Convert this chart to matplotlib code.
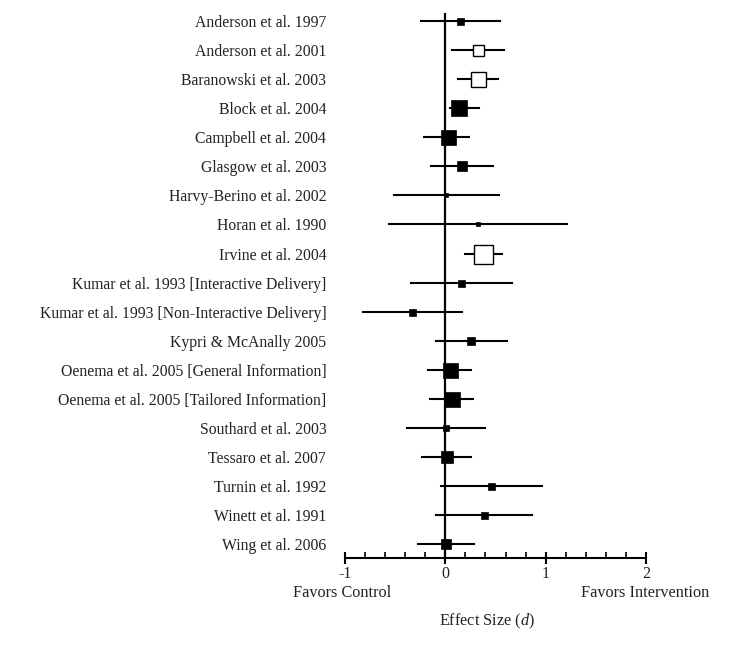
import numpy as np
import matplotlib.pyplot as plt
from matplotlib.ticker import MultipleLocator

plt.rcParams['font.family'] = ['Liberation Serif', 'DejaVu Serif']
plt.rcParams['axes.unicode_minus'] = False
plt.rcParams['mathtext.fontset'] = 'custom'
plt.rcParams['mathtext.it'] = 'Liberation Serif:italic'
plt.rcParams['mathtext.rm'] = 'Liberation Serif'

studies = ["Anderson et al. 1997", "Anderson et al. 2001", "Baranowski et al. 2003",
           "Block et al. 2004", "Campbell et al. 2004", "Glasgow et al. 2003",
           "Harvy-Berino et al. 2002", "Horan et al. 1990", "Irvine et al. 2004",
           "Kumar et al. 1993 [Interactive Delivery]",
           "Kumar et al. 1993 [Non-Interactive Delivery]", "Kypri & McAnally 2005",
           "Oenema et al. 2005 [General Information]",
           "Oenema et al. 2005 [Tailored Information]", "Southard et al. 2003",
           "Tessaro et al. 2007", "Turnin et al. 1992", "Winett et al. 1991",
           "Wing et al. 2006"]
d = [0.15, 0.33, 0.33, 0.14, 0.03, 0.17, 0.01, 0.33, 0.38, 0.16, -0.33, 0.26,
     0.05, 0.07, 0.01, 0.02, 0.46, 0.39, 0.01]
lo = [-0.24, 0.07, 0.13, 0.05, -0.21, -0.14, -0.51, -0.56, 0.20, -0.34, -0.82, -0.09,
      -0.17, -0.15, -0.38, -0.23, -0.04, -0.09, -0.27]
hi = [0.54, 0.58, 0.52, 0.34, 0.24, 0.48, 0.53, 1.21, 0.56, 0.66, 0.17, 0.61,
      0.26, 0.28, 0.40, 0.26, 0.96, 0.86, 0.29]
# relative study weight (box size)
weight = [7, 11, 15, 16, 15, 9.5, 5, 4, 19, 7, 7, 8, 15, 15, 6, 12, 7, 7, 10]
open_box = ["Anderson et al. 2001", "Baranowski et al. 2003", "Irvine et al. 2004"]

fig = plt.figure(figsize=(7.5, 6.51), dpi=100)
ax = fig.add_axes([345/750, 1-558/651, 301/750, (558-13)/651])

n = len(studies)
ypos = np.arange(n)[::-1]

ax.axvline(0, color='black', lw=1.6, zorder=1)
for i in range(n):
    ax.plot([lo[i], hi[i]], [ypos[i], ypos[i]], color='black', lw=1.5, zorder=2)
    if studies[i] in open_box:
        ax.plot(d[i], ypos[i], marker='s', ms=weight[i]*0.72, mfc='white',
                mec='black', mew=1.0, zorder=3)
    else:
        ax.plot(d[i], ypos[i], marker='s', ms=weight[i]*0.72, mfc='black',
                mec='black', mew=0.5, zorder=3)

ax.set_xlim(-1, 2)
ax.set_ylim(-0.48, n - 1 + 0.28)
for s in ['top', 'right', 'left']:
    ax.spines[s].set_visible(False)
ax.spines['bottom'].set_linewidth(1.5)

ax.set_yticks(ypos)
ax.set_yticklabels(studies, fontsize=11.3, color='#222222')
ax.tick_params(axis='y', length=0, pad=13.5)

ax.set_xticks([-1, 0, 1, 2])
ax.xaxis.set_minor_locator(MultipleLocator(0.2))
ax.tick_params(axis='x', which='major', direction='inout', length=9, width=1.5,
               labelsize=11.5, pad=1, labelcolor='#222222')
ax.tick_params(axis='x', which='minor', direction='in', length=4, width=1.2)

fig.text(342/750, 1-593/651, "Favors Control", ha='center', va='center',
         fontsize=11.7, color='#222222')
fig.text(645/750, 1-593/651, "Favors Intervention", ha='center', va='center',
         fontsize=11.7, color='#222222')
fig.text(487/750, 1-621/651, "Effect Size ($\\mathit{d}$)", ha='center', va='center',
         fontsize=11.7, color='#222222')

fig.savefig("out.png", dpi=100)
